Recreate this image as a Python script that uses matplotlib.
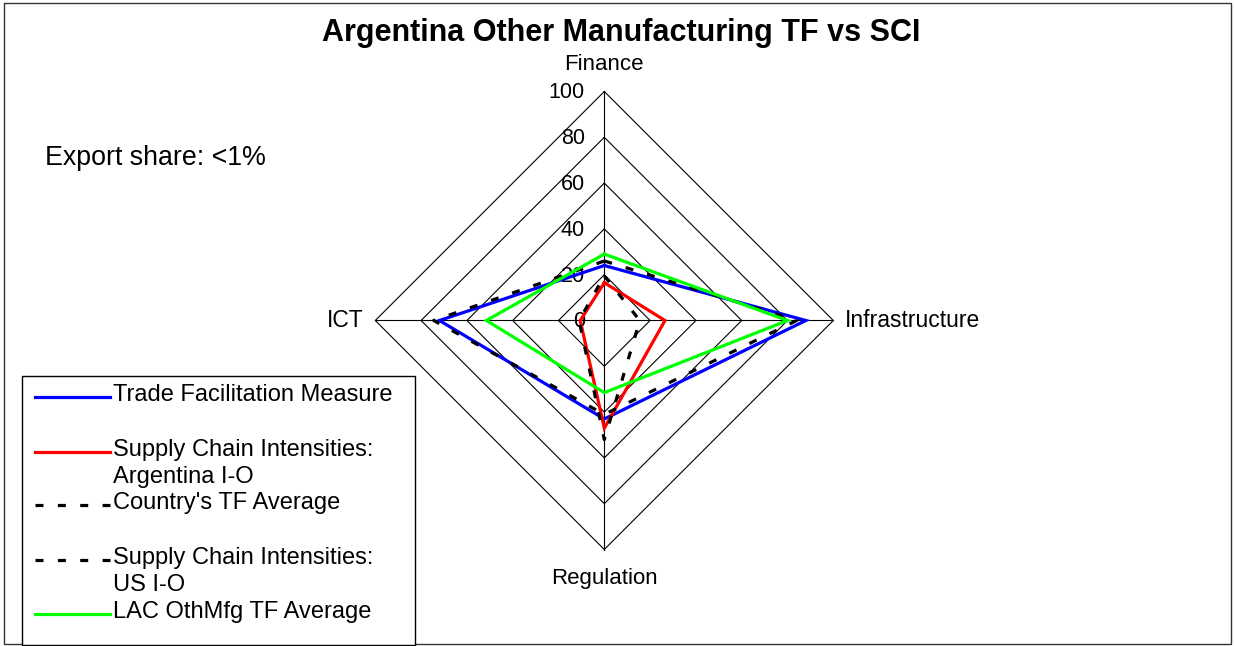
import numpy as np
import matplotlib
matplotlib.use("Agg")
import matplotlib.pyplot as plt
from matplotlib.patches import Rectangle
from matplotlib.lines import Line2D

plt.rcParams['font.family'] = ['Liberation Sans', 'DejaVu Sans']

# ---- data ----
categories = ["Finance", "Infrastructure", "Regulation", "ICT"]
ticks = [0, 20, 40, 60, 80, 100]
tf_measure = [24, 88, 43, 72]
sci_argentina = [16.5, 26.5, 47, 10.5]
country_tf_avg = [26, 84, 41, 74.5]
sci_us = [19.5, 15.5, 52, 11]
lac_tf_avg = [29, 80, 31.5, 51.5]

series_labels = ["Trade Facilitation Measure",
                 "Supply Chain Intensities:\nArgentina I-O",
                 "Country's TF Average",
                 "Supply Chain Intensities:\nUS I-O",
                 "LAC OthMfg TF Average"]
series_values = [tf_measure, sci_argentina, country_tf_avg, sci_us, lac_tf_avg]
series_colors = ["#0000FF", "#FF0000", "#000000", "#000000", "#00FF00"]
series_styles = ["-", "-", (0, (2.5, 4.5)), (0, (2.5, 4.5)), "-"]

title = "Argentina Other Manufacturing TF vs SCI"
note = "Export share: <1%"

W, H = 1234, 646
fig = plt.figure(figsize=(W / 100, H / 100), dpi=100)

cx, cy, scale = 604.3, 320.5, 2.29  # pixel centre and pixels per unit
ax = fig.add_axes([0, 0, 1, 1])
ax.set_xlim(-cx / scale, (W - cx) / scale)
ax.set_ylim(-(H - cy) / scale, cy / scale)
ax.set_aspect('auto')
ax.axis('off')

n = len(categories)
theta = np.arange(n) * 2 * np.pi / n  # clockwise from top


def xy(vals):
    v = np.asarray(vals, dtype=float)
    x = v * np.sin(theta)
    y = v * np.cos(theta)
    return np.append(x, x[0]), np.append(y, y[0])


# grid rings
for t in ticks[1:]:
    gx, gy = xy([t] * n)
    ax.plot(gx, gy, color='black', lw=0.8, zorder=1)
# spokes
rmax = ticks[-1]
ax.plot([-rmax, rmax], [0, 0], color='black', lw=0.8, zorder=1)
ax.plot([0, 0], [-rmax, rmax], color='black', lw=0.8, zorder=1)

# tick labels
for t in ticks:
    ax.text(-8.5, t - 0.6, str(t), ha='right', va='center', fontsize=15.5, zorder=2)

# category labels
ax.text(0, rmax + 11.8, categories[0], ha='center', va='center', fontsize=16)
ax.text(rmax + 5, 0, categories[1], ha='left', va='center', fontsize=16.5)
ax.text(0, -rmax - 12.5, categories[2], ha='center', va='center', fontsize=16)
ax.text(-rmax - 5, 0, categories[3], ha='right', va='center', fontsize=16.5)

# series
for vals, col, ls, lab in zip(series_values, series_colors, series_styles, series_labels):
    sx, sy = xy(vals)
    ax.plot(sx, sy, color=col, lw=2.3, linestyle=ls, zorder=3,
            solid_joinstyle='miter', dash_capstyle='butt')


def fx(px):
    return px / W


def fy(py):
    return 1 - py / H


# title & note
fig.text(fx(621), fy(33), title, ha='center', va='center', fontsize=22, fontweight='bold')
fig.text(fx(45), fy(158), note, ha='left', va='center', fontsize=19.3)

# figure border
fig.patches.append(Rectangle((fx(4), fy(644)), fx(1231) - fx(4), fy(3) - fy(644),
                             transform=fig.transFigure, fill=False, edgecolor='#333333', lw=1.0))

# legend (manual)
fig.patches.append(Rectangle((fx(22), fy(645)), fx(415) - fx(22), fy(376) - fy(645),
                             transform=fig.transFigure, fill=True, facecolor='white',
                             edgecolor='black', lw=1.0, zorder=5))
row_y = [397, 452, 505, 560, 614]
for ry, col, ls, lab in zip(row_y, series_colors, series_styles, series_labels):
    fig.lines.append(Line2D([fx(35), fx(110)], [fy(ry), fy(ry)], transform=fig.transFigure,
                            color=col, lw=2.3, linestyle=ls, zorder=6, dash_capstyle='butt'))
    for i, line in enumerate(lab.split("\n")):
        fig.text(fx(113), fy(ry - 2 + 27 * i), line, ha='left', va='center', fontsize=17, zorder=6)

fig.savefig("out.png", dpi=100)
